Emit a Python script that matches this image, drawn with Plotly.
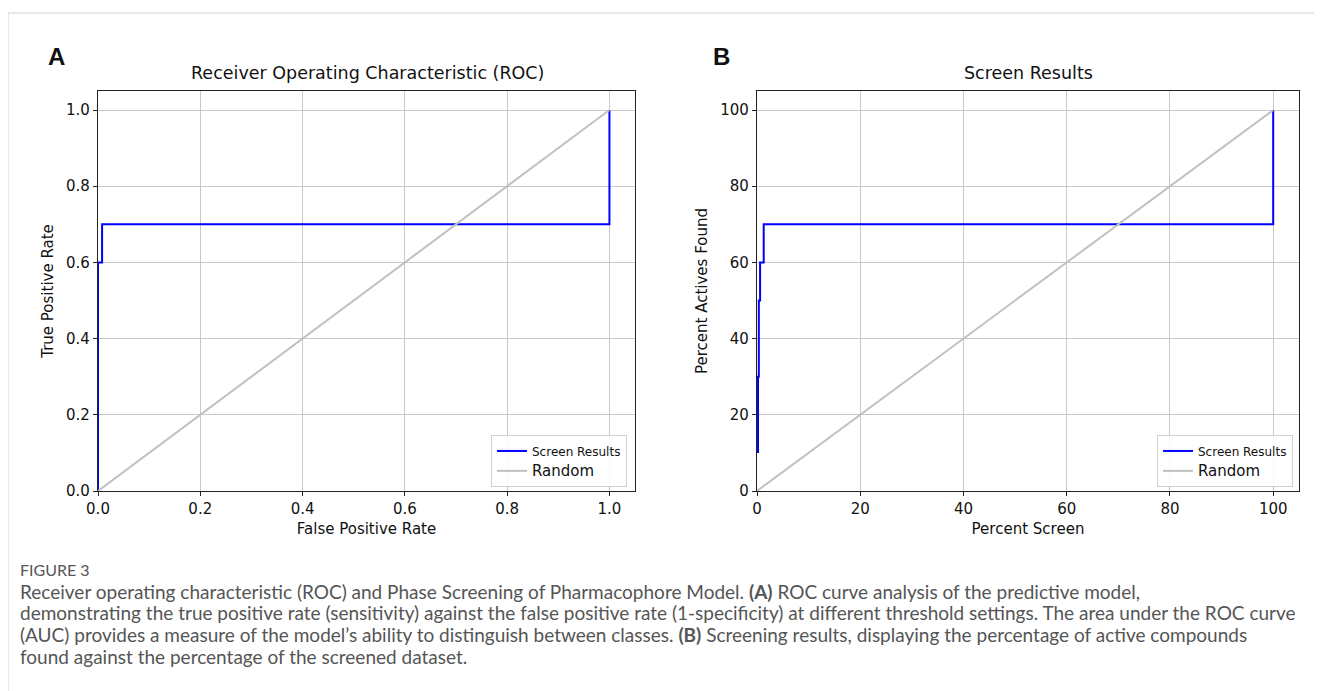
import plotly.graph_objects as go

# ---- data ----
roc_fpr = [0.0, 0.0, 0.008, 0.008, 1.0, 1.0]
roc_tpr = [0.0, 0.6, 0.6, 0.7, 0.7, 1.0]
rand_a = [0.0, 1.0]

screen_pct = [0.2, 0.2, 0.35, 0.35, 0.6, 0.6, 1.3, 1.3, 100.0, 100.0]
actives_pct = [10, 30, 30, 50, 50, 60, 60, 70, 70, 100]
rand_b = [0, 100]

xticks_a = [0.0, 0.2, 0.4, 0.6, 0.8, 1.0]
xticks_b = [0, 20, 40, 60, 80, 100]

W, H = 1322, 691
OFF = 8  # default body margin of the page
BLUE = "#0000ff"
GREY = "#c0c0c0"
FONT = "DejaVu Sans"

def px(x):
    return (x - OFF) / W

def py(y):
    return 1 - (y - OFF) / H

fig = go.Figure()

fig.add_trace(go.Scatter(x=roc_fpr, y=roc_tpr, mode="lines", line=dict(color=BLUE, width=2),
                         name="<span style='font-size:12px'>Screen Results</span>",
                         xaxis="x", yaxis="y", legend="legend"))
fig.add_trace(go.Scatter(x=rand_a, y=rand_a, mode="lines", line=dict(color=GREY, width=2),
                         name="<span style='font-size:15px'>Random</span>",
                         xaxis="x", yaxis="y", legend="legend"))
fig.add_trace(go.Scatter(x=screen_pct, y=actives_pct, mode="lines", line=dict(color=BLUE, width=2),
                         name="<span style='font-size:12px'>Screen Results</span>",
                         xaxis="x2", yaxis="y2", legend="legend2"))
fig.add_trace(go.Scatter(x=rand_b, y=rand_b, mode="lines", line=dict(color=GREY, width=2),
                         name="<span style='font-size:15px'>Random</span>",
                         xaxis="x2", yaxis="y2", legend="legend2"))

axis_common = dict(showline=True, linecolor="#222", linewidth=1.3, mirror=True,
                   ticks="outside", ticklen=4, tickcolor="#222",
                   showgrid=True, gridcolor="#c8c8c8", gridwidth=1,
                   zeroline=False, tickfont=dict(family=FONT, size=15, color="#111"),
                   automargin=False)

fig.update_layout(
    width=W, height=H,
    margin=dict(l=0, r=0, t=0, b=0),
    paper_bgcolor="white", plot_bgcolor="white",
    font=dict(family=FONT, color="#111"),
    xaxis=dict(domain=[px(98), px(635)], range=[0, 1.05], tickvals=xticks_a,
               ticktext=[f"{v:.1f}" for v in xticks_a], anchor="y",
               title=dict(text="False Positive Rate", font=dict(size=15), standoff=6), **axis_common),
    yaxis=dict(domain=[py(491), py(91)], range=[0, 1.05], tickvals=xticks_a,
               ticktext=[f"{v:.1f}" for v in xticks_a], anchor="x",
               title=dict(text="True Positive Rate", font=dict(size=15), standoff=8), **axis_common),
    xaxis2=dict(domain=[px(757), px(1299)], range=[0, 105], tickvals=xticks_b, anchor="y2",
                title=dict(text="Percent Screen", font=dict(size=15), standoff=6), **axis_common),
    yaxis2=dict(domain=[py(491), py(91)], range=[0, 105], tickvals=xticks_b, anchor="x2",
                title=dict(text="Percent Actives Found", font=dict(size=15), standoff=8), **axis_common),
    legend=dict(x=px(627), y=py(435), xanchor="right", yanchor="top",
                bgcolor="rgba(255,255,255,0.85)", bordercolor="#d0d0d0", borderwidth=1,
                font=dict(family=FONT, size=13, color="#111"), itemwidth=30,
                tracegroupgap=0),
    legend2=dict(x=px(1293), y=py(435), xanchor="right", yanchor="top",
                 bgcolor="rgba(255,255,255,0.85)", bordercolor="#d0d0d0", borderwidth=1,
                 font=dict(family=FONT, size=13, color="#111"), itemwidth=30,
                 tracegroupgap=0),
    showlegend=True,
)

annotations = [
    dict(text="<b>A</b>", x=px(56), y=py(57), font=dict(family="Liberation Sans", size=24, color="#111")),
    dict(text="<b>B</b>", x=px(721), y=py(57), font=dict(family="Liberation Sans", size=24, color="#111")),
    dict(text="Receiver Operating Characteristic (ROC)", x=px(367), y=py(73),
         font=dict(family=FONT, size=17.5, color="#111")),
    dict(text="Screen Results", x=px(1028), y=py(73), font=dict(family=FONT, size=17.5, color="#111")),
]

cap_font = dict(family="Lato", size=19, color="#555")
caption_lines = [
    "Receiver operating characteristic (ROC) and Phase Screening of Pharmacophore Model. <b>(A)</b> ROC curve analysis of the predictive model,",
    "demonstrating the true positive rate (sensitivity) against the false positive rate (1-specificity) at different threshold settings. The area under the ROC curve",
    "(AUC) provides a measure of the model’s ability to distinguish between classes. <b>(B)</b> Screening results, displaying the percentage of active compounds",
    "found against the percentage of the screened dataset.",
]
annotations.append(dict(text="FIGURE 3", x=px(18), y=py(569), xanchor="left",
                        font=dict(family="Lato", size=16, color="#555")))
for i, line in enumerate(caption_lines):
    annotations.append(dict(text=line, x=px(18), y=py(591 + 21.7 * i), xanchor="left", font=cap_font))

for a in annotations:
    a.setdefault("xref", "paper")
    a.setdefault("yref", "paper")
    a.setdefault("showarrow", False)
    a.setdefault("yanchor", "middle")
    a.setdefault("xanchor", "center")
fig.update_layout(annotations=annotations)

fig.update_layout(shapes=[
    dict(type="line", xref="paper", yref="paper", x0=px(8), x1=1, y0=py(13), y1=py(13),
         line=dict(color="#d0d0d0", width=1)),
    dict(type="line", xref="paper", yref="paper", x0=px(8), x1=px(8), y0=0, y1=py(13),
         line=dict(color="#d0d0d0", width=1)),
])

fig.write_html("out.html")
